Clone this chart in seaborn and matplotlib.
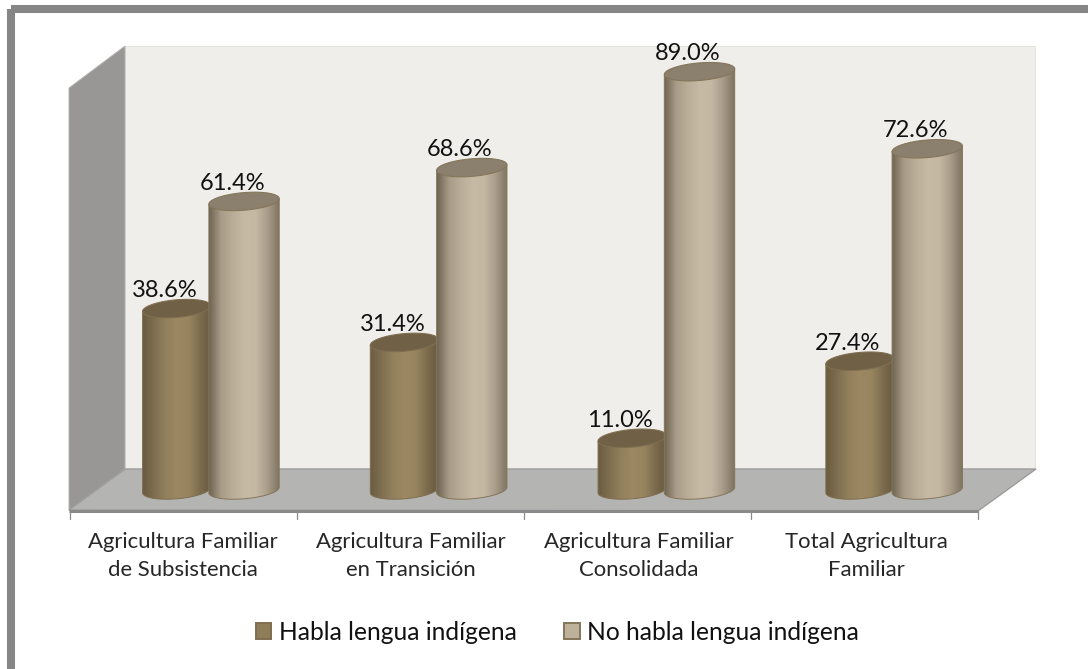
#!/usr/bin/env python3
"""Cylinder-style grouped bars: lengua indigena by tipo de agricultura familiar."""

import numpy as np
import pandas as pd
import matplotlib
matplotlib.use('Agg')
import matplotlib.pyplot as plt
import seaborn as sns
from matplotlib.colors import LinearSegmentedColormap
from matplotlib.patches import Polygon, Rectangle
from matplotlib.transforms import ScaledTranslation

categories = ['Agricultura Familiar\nde Subsistencia',
              'Agricultura Familiar\nen Transición',
              'Agricultura Familiar\nConsolidada',
              'Total Agricultura\nFamiliar']
habla = [38.6, 31.4, 11.0, 27.4]
no_habla = [61.4, 68.6, 89.0, 72.6]
series_names = ['Habla lengua indígena', 'No habla lengua indígena']

W, H = 1088, 669
PX_PER_PCT = 4.7
BASE_PX = 490
Y_MIN, Y_MAX = -5, 100

sns.set_style('white')
plt.rcParams['font.family'] = ['Lato', 'DejaVu Sans']
plt.rcParams['text.color'] = '#111111'

fig = plt.figure(figsize=(W / 100, H / 100), dpi=100, facecolor='white')

# Box walls and frame, in pixel coordinates
bg = fig.add_axes([0, 0, 1, 1], zorder=0)
bg.set_xlim(0, W)
bg.set_ylim(H, 0)
bg.axis('off')
bg.add_patch(Rectangle((11, 9), 1100, 662, fill=False, ec='#868686', lw=5.8, joinstyle='round'))
bg.add_patch(Rectangle((125, 46), 910, 423, fc='#efeeeb', ec='#e4e3e0', lw=0.7))
bg.add_patch(Polygon([(69, 88), (125, 46), (125, 469), (69, 510)], fc='#989795', ec='#b5b5b3', lw=0.7))
bg.add_patch(Polygon([(69, 510), (125, 469), (1036, 469), (978, 511)], fc='#b4b4b3', ec='#9c9c9b', lw=1))
bg.plot([69, 978], [511, 511], color='#8a8a8a', lw=2.2, solid_capstyle='butt')
for tx in [69.5, 297, 524, 751, 978]:
    bg.plot([tx, tx], [511, 519], color='#8a8a8a', lw=0.9)

# Bars
ax_h = (Y_MAX - Y_MIN) * PX_PER_PCT
ax_bottom = BASE_PX - Y_MIN * PX_PER_PCT
ax = fig.add_axes([97 / W, 1 - ax_bottom / H, 911 / W, ax_h / H], zorder=1)
df = pd.DataFrame({
    'cat': categories * 2,
    'serie': [series_names[0]] * 4 + [series_names[1]] * 4,
    'pct': habla + no_habla,
})
sns.barplot(data=df, x='cat', y='pct', hue='serie', ax=ax, width=0.6, errorbar=None,
            palette=['#8f7d5a', '#bfb29d'], saturation=1)
ax.patch.set_visible(False)
sns.despine(ax=ax, left=True, bottom=True)
ax.set_xlabel('')
ax.set_ylabel('')
ax.set_yticks([])

cmaps = [
    LinearSegmentedColormap.from_list('brown', ['#6b5c42', '#7f6f50', '#93805c', '#9c8963', '#98855f', '#7c6c4e', '#66583f']),
    LinearSegmentedColormap.from_list('light', ['#6f6552', '#a89b87', '#bbae99', '#c7baa5', '#c5b8a3', '#a89c89', '#7d7260']),
]
top_colors = ['#6f6046', '#8b7f6e']
edge_colors = ['#7f6e4f', '#85765a']
RY = 8.8 / PX_PER_PCT
TILT = 2.8 / PX_PER_PCT
t = np.linspace(0, 2 * np.pi, 90)
z = 3
for s, cont in enumerate(ax.containers):
    for bar in cont:
        if s == 1:
            bar.set_x(bar.get_x() - 0.009)
            bar.set_width(bar.get_width() + 0.009)
        bar.set_visible(False)
        x0, w, h = bar.get_x(), bar.get_width(), bar.get_height()
        cx = x0 + w / 2
        # Top ellipse and lower front arc
        top = np.c_[cx + w / 2 * np.cos(t), h + RY * np.sin(t) + TILT * np.cos(t)]
        tb = np.linspace(np.pi, 2 * np.pi, 45)
        front = np.c_[cx + w / 2 * np.cos(tb), RY * np.sin(tb) + TILT * np.cos(tb)]
        body = np.r_[front, [[x0 + w, h + TILT]], [[x0, h - TILT]]]
        clip = Polygon(body, closed=True, fc='none', ec=edge_colors[s], lw=0.7, zorder=z + 1)
        ax.add_patch(clip)
        img = ax.imshow(np.linspace(0, 1, 128).reshape(1, -1), cmap=cmaps[s], aspect='auto',
                        extent=(x0, x0 + w, -RY - TILT, h + TILT), zorder=z, interpolation='bilinear')
        img.set_clip_path(clip)
        ax.add_patch(Polygon(top, closed=True, fc=top_colors[s], ec=edge_colors[s], lw=0.8, zorder=z + 2))
        ax.annotate(f'{h:.1f}%', (cx, h), xytext=(-8.6, 13), textcoords='offset points',
                    ha='center', va='center', fontsize=17, zorder=50)
        z += 3
ax.set_xlim(-0.5, 3.5)
ax.set_ylim(Y_MIN, Y_MAX)

# Category labels sit left of the bars because of the box perspective
ax.tick_params(axis='x', length=0, pad=13.5, labelsize=15.9)
shift = ScaledTranslation(-28 / 100, 0, fig.dpi_scale_trans)
for lab in ax.get_xticklabels():
    lab.set_transform(lab.get_transform() + shift)
    lab.set_linespacing(1.5)

sns.move_legend(ax, loc='center', bbox_to_anchor=(557.5 / W, 1 - 632 / H),
                bbox_transform=fig.transFigure, ncol=2, frameon=False, title=None,
                fontsize=17.7, handlelength=0.62, handleheight=0.62, handletextpad=0.3,
                columnspacing=1.95)
leg = ax.get_legend()
for handle, col in zip(leg.legend_handles, edge_colors):
    handle.set_edgecolor(col)
    handle.set_linewidth(1.4)

fig.savefig('out.png', dpi=100)
